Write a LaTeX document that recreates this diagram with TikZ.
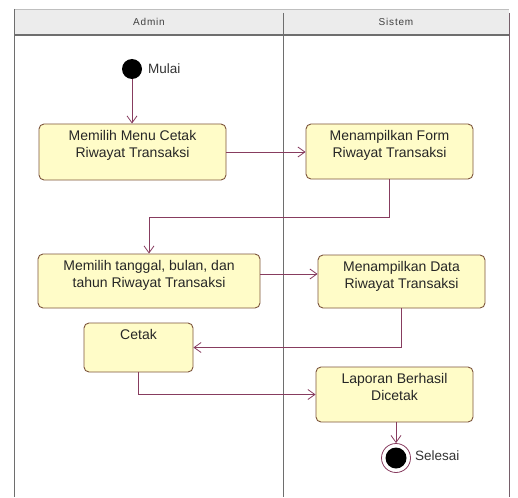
\documentclass[tikz,border=0pt]{standalone}
\usepackage{fontspec}
\setmainfont{Liberation Sans}
\usetikzlibrary{arrows.meta}
\definecolor{flow}{RGB}{135,60,95}
\definecolor{boxline}{RGB}{125,85,60}
\definecolor{boxfill}{RGB}{255,252,200}
\definecolor{lane}{RGB}{110,110,110}
\definecolor{headfill}{RGB}{236,236,236}
\tikzset{
  actbox/.style={draw=boxline, fill=boxfill, line width=0.9pt, rounded corners=5pt, inner sep=0pt},
  acttext/.style={anchor=north, align=center, font=\fontsize{14}{16.5}\selectfont, text=black!85, inner sep=0pt},
  flowline/.style={draw=flow, line width=0.8pt, -{Straight Barb[length=7pt,width=10pt]}},
  lanehead/.style={font=\fontsize{10}{11}\selectfont\addfontfeature{LetterSpace=8}, text=black!75},
  tag/.style={anchor=west, font=\fontsize{13.5}{15}\selectfont, text=black!80, inner sep=0pt}
}
\begin{document}
\begin{tikzpicture}[x=1pt, y=-1pt]
  \useasboundingbox (0,0) rectangle (518,497);
  % swimlane frame and header
  \fill[headfill] (14,9) rectangle (509,35);
  \draw[black!25, line width=0.6pt] (14,9) -- (509,9);
  \draw[lane, line width=1pt] (14,9) -- (14,497);
  \draw[lane, line width=1pt] (283,13) -- (283,497);
  \draw[lane!70!flow, line width=1pt] (509,13) -- (509,497);
  \draw[lane, line width=1.8pt] (14,35) -- (509,35);
  \node[lanehead] (hadmin) at (149,22) {Admin};
  \node[lanehead] (hsistem) at (396,22) {Sistem};

  % start and end
  \node[circle, fill=black, minimum size=20pt, inner sep=0pt] (start) at (132,69) {};
  \node[tag] (lstart) at (148,69) {Mulai};
  \node[circle, draw=flow, line width=0.8pt, minimum size=29pt, inner sep=0pt] (endring) at (396,458) {};
  \node[circle, fill=black, minimum size=21pt, inner sep=0pt] (end) at (396,458) {};
  \node[tag] (lend) at (415,456) {Selesai};

  % activities
  \node[actbox, minimum width=187pt, minimum height=56pt] (b1) at (132.5,152) {};
  \node[acttext] at ([yshift=-7pt]b1.north) {Memilih Menu Cetak\\Riwayat Transaksi};
  \node[actbox, minimum width=167pt, minimum height=55pt] (b2) at (389.5,151.5) {};
  \node[acttext] at ([yshift=-7pt]b2.north) {Menampilkan Form\\Riwayat Transaksi};
  \node[actbox, minimum width=222pt, minimum height=54pt] (b3) at (149,281) {};
  \node[acttext] at ([yshift=-7pt]b3.north) {Memilih tanggal, bulan, dan\\tahun Riwayat Transaksi};
  \node[actbox, minimum width=167pt, minimum height=53pt] (b4) at (401.5,281.5) {};
  \node[acttext] at ([yshift=-7pt]b4.north) {Menampilkan Data\\Riwayat Transaksi};
  \node[actbox, minimum width=109pt, minimum height=49pt] (b5) at (138.5,347.5) {};
  \node[acttext] at ([yshift=-7pt]b5.north) {Cetak};
  \node[actbox, minimum width=157pt, minimum height=55pt] (b6) at (394.5,394.5) {};
  \node[acttext] at ([yshift=-7pt]b6.north) {Laporan Berhasil\\Dicetak};

  % control flow
  \draw[flowline] (start) -- (start |- b1.north);
  \draw[flowline] (b1.east) -- (b1.east -| b2.west);
  \draw[flowline] (b2.south) -- ++(0,38) -| (b3.north);
  \draw[flowline] ([yshift=7pt]b3.east) -- ([yshift=7pt]b3.east -| b4.west);
  \draw[flowline] ([xshift=-0.5pt]b4.south) |- (b5.east);
  \draw[flowline] (b5.south) |- (b6.west);
  \draw[flowline] (b6.south -| endring) -- (endring);
\end{tikzpicture}
\end{document}
